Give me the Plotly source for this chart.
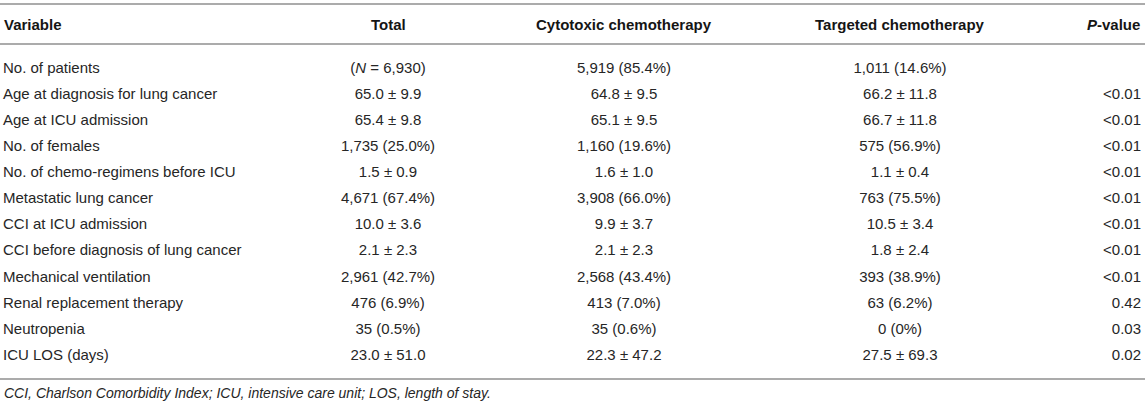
import plotly.graph_objects as go

W, H = 1145, 408

headers = ["Variable", "Total", "Cytotoxic chemotherapy",
           "Targeted chemotherapy", "<i>P</i>-value"]

variables = [
    "No. of patients",
    "Age at diagnosis for lung cancer",
    "Age at ICU admission",
    "No. of females",
    "No. of chemo-regimens before ICU",
    "Metastatic lung cancer",
    "CCI at ICU admission",
    "CCI before diagnosis of lung cancer",
    "Mechanical ventilation",
    "Renal replacement therapy",
    "Neutropenia",
    "ICU LOS (days)",
]
total = [
    "(<i>N</i> = 6,930)", "65.0 ± 9.9", "65.4 ± 9.8", "1,735 (25.0%)", "1.5 ± 0.9",
    "4,671 (67.4%)", "10.0 ± 3.6", "2.1 ± 2.3", "2,961 (42.7%)", "476 (6.9%)",
    "35 (0.5%)", "23.0 ± 51.0",
]
cytotoxic = [
    "5,919 (85.4%)", "64.8 ± 9.5", "65.1 ± 9.5", "1,160 (19.6%)", "1.6 ± 1.0",
    "3,908 (66.0%)", "9.9 ± 3.7", "2.1 ± 2.3", "2,568 (43.4%)", "413 (7.0%)",
    "35 (0.6%)", "22.3 ± 47.2",
]
targeted = [
    "1,011 (14.6%)", "66.2 ± 11.8", "66.7 ± 11.8", "575 (56.9%)", "1.1 ± 0.4",
    "763 (75.5%)", "10.5 ± 3.4", "1.8 ± 2.4", "393 (38.9%)", "63 (6.2%)",
    "0 (0%)", "27.5 ± 69.3",
]
p_values = [
    "", "<0.01", "<0.01", "<0.01", "<0.01", "<0.01", "<0.01", "<0.01", "<0.01",
    "0.42", "0.03", "0.02",
]
footnote = "CCI, Charlson Comorbidity Index; ICU, intensive care unit; LOS, length of stay."

# ---- layout / style constants (pixel positions) ----
FONT = "Liberation Sans, Arial, Helvetica, sans-serif"
TXT = "#262626"
HDR = "#151515"
RULE = "#ababab"
FS = 15

# column anchors (x in px) and alignment
col_x = [3, 388, 624, 900, 1141]
col_pos = ["middle right", "middle center", "middle center", "middle center", "middle left"]
hdr_anchor = ["left", "center", "center", "center", "right"]

first_row_px, row_step_px = 69, 26.1
header_px = 24
rules_px = [4, 44, 379]
footnote_px = 393

rows = list(range(len(variables)))
y_top = -first_row_px / row_step_px
y_bot = y_top + H / row_step_px

fig = go.Figure()
columns = [variables, total, cytotoxic, targeted, p_values]
for cx, pos, vals in zip(col_x, col_pos, columns):
    fig.add_trace(go.Scatter(
        x=[cx] * len(vals), y=rows, text=vals, mode="text",
        textposition=pos, textfont=dict(family=FONT, size=FS, color=TXT),
        hoverinfo="skip", showlegend=False,
    ))

for cx, anc, h in zip(col_x, hdr_anchor, headers):
    fig.add_annotation(text=f"<b>{h}</b>", x=cx, xref="x", y=1 - header_px / H, yref="paper",
                       xanchor=anc, yanchor="middle", showarrow=False, borderpad=0,
                       font=dict(family=FONT, size=FS, color=HDR))

for ypx in rules_px:
    y = 1 - ypx / H
    fig.add_shape(type="line", xref="paper", yref="paper", x0=0, x1=1, y0=y, y1=y,
                  line=dict(color=RULE, width=2))

fig.add_annotation(text=f"<i>{footnote}</i>", x=3, xref="x", y=1 - footnote_px / H, yref="paper",
                   xanchor="left", yanchor="middle", showarrow=False, borderpad=0,
                   font=dict(family=FONT, size=14, color=TXT))

fig.update_xaxes(range=[0, W], visible=False, fixedrange=True)
fig.update_yaxes(range=[y_bot, y_top], visible=False, fixedrange=True)
fig.update_layout(width=W, height=H, margin=dict(l=0, r=0, t=0, b=0),
                  paper_bgcolor="white", plot_bgcolor="white")

fig.write_html(
    "out.html",
    config={"displayModeBar": False, "responsive": False},
    post_script="document.body.style.margin='0px';document.body.style.overflow='hidden';",
)
